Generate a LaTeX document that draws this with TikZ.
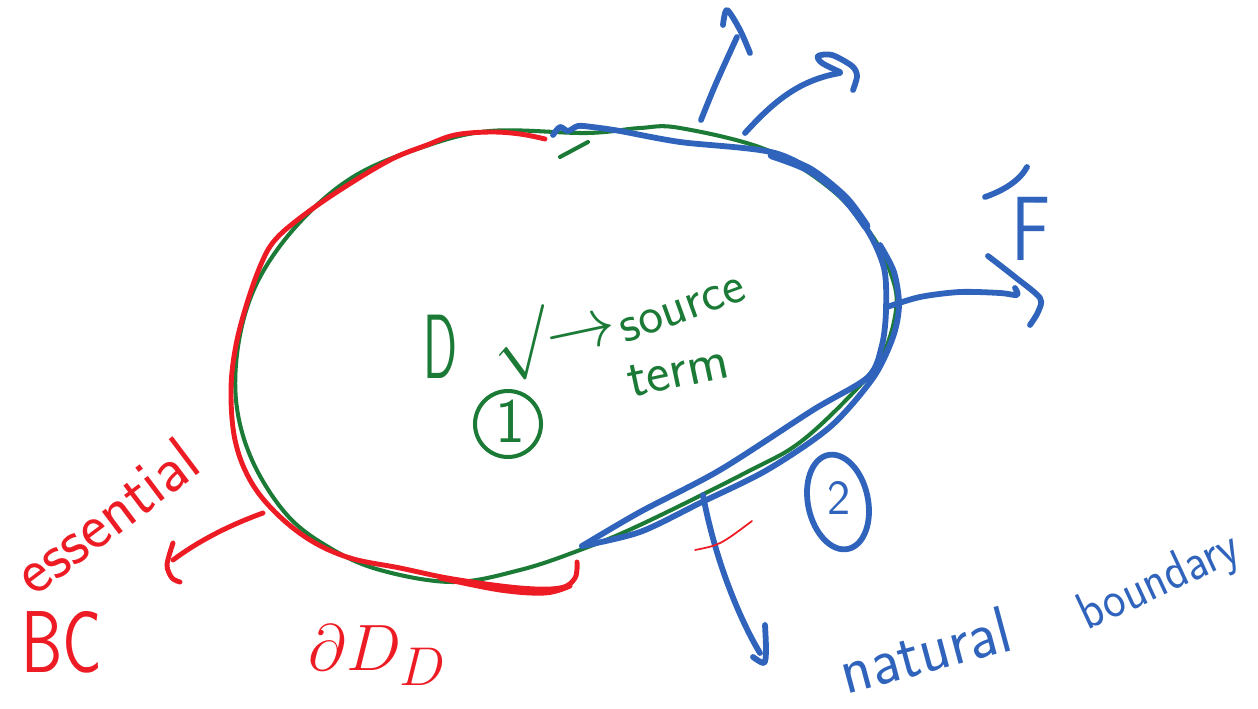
\documentclass[tikz,border=0pt]{standalone}
\definecolor{pgreen}{RGB}{26,122,54}
\definecolor{pred}{RGB}{237,28,36}
\definecolor{pblue}{RGB}{48,100,188}
\tikzset{
  gstroke/.style={pgreen, line width=2.3pt, line cap=round, line join=round},
  rstroke/.style={pred, line width=2.8pt, line cap=round, line join=round},
  bstroke/.style={pblue, line width=3.3pt, line cap=round, line join=round},
  lbl/.style={inner sep=0pt, font=\sffamily},
  fs/.style={font=\sffamily\fontsize{#1}{#1}\selectfont},
  mth/.style={font=\fontsize{24.88}{26}\selectfont, scale=#1},
}
\begin{document}
\begin{tikzpicture}[x=0.02cm,y=-0.02cm]
\useasboundingbox (0,0) rectangle (1258,709);
% domain boundary (green)
\draw[gstroke] plot[smooth cycle, tension=0.6] coordinates {(490,131) (587,133) (640,128) (680,128) (767,150) (832,190) (873,237) (893,280) (896,310) (885,350) (865,380) (803,440) (747,472) (640,525) (580,550) (520,570) (453,582) (380,570) (330,548) (287,515) (252,460) (236,400) (240,335) (260,277) (300,222) (353,177) (420,148)};
\draw[gstroke] (560,157) -- (588,142);
% essential boundary (red)
\draw[rstroke] plot[smooth, tension=0.6] coordinates {(545,139) (520,134) (490,132) (455,135) (427,145) (390,160) (340,190) (300,218) (275,240) (262,262) (248,300) (236,345) (231,390) (235,440) (250,480) (275,512) (310,540) (350,558) (400,568) (453,579) (520,588) (560,588) (575,578) (577,562)};
\draw[rstroke] plot[smooth, tension=0.6] coordinates {(440,578) (500,590) (545,593) (570,586)};
% natural boundary (blue)
\draw[bstroke] plot[smooth, tension=0.5] coordinates {(553,135) (560,127) (568,131) (578,126) (592,127) (620,131) (680,142) (775,153) (828,183) (866,228) (884,268) (886,310) (882,345) (868,377) (813,410) (720,470) (640,512) (582,546)};
\draw[bstroke] plot[smooth, tension=0.5] coordinates {(582,546) (640,532) (700,503) (767,470) (830,427) (873,378) (893,337) (899,305) (894,272) (880,245)};
\draw[bstroke, line width=5pt] plot[smooth] coordinates {(772,155) (810,170) (845,198) (866,226)};
% blue arrows on the top
\draw[bstroke] (701,120) .. controls (715,85) .. (737,37);
\draw[bstroke] plot[smooth] coordinates {(723,25) (727,10) (740,30) (750,53)};
\draw[bstroke] (745,133) .. controls (775,100) and (800,80) .. (840,73);
\draw[bstroke] plot[smooth] coordinates {(840,72) (822,63) (818,56) (832,55) (852,66) (857,76) (853,90)};
% F arrow
\draw[bstroke] plot[smooth] coordinates {(887,307) (920,297) (960,292) (1000,293) (1017,295) (1015,288)};
\draw[bstroke] plot[smooth] coordinates {(988,256) (1015,277) (1040,298) (1038,312) (1030,325)};
\draw[bstroke] (985,197) .. controls (1005,190) and (1020,180) .. (1027,167);
\node[lbl, fs=52, text=pblue, xscale=0.8] (F) at (1031,229) {F};
% downward arrow
\draw[bstroke] (703,495) .. controls (715,560) and (740,620) .. (760,653);
\draw[bstroke] plot[smooth] coordinates {(765,625) (766,650) (764,663) (753,657)};
\draw[pred, line width=1pt, line cap=round] (695,550) .. controls (720,545) .. (752,521);
% circled 2
\draw[bstroke, rotate around={12:(838,502)}] (838,502) ellipse (30 and 48);
\node[lbl, fs=28, text=pblue] (two) at (839,498) {2};
% natural boundary text
\node[lbl, fs=38, text=pblue, rotate=15, xscale=0.95] (natural) at (925,650) {natural};
\node[lbl, fs=30, text=pblue, rotate=25, xscale=0.9] (boundary) at (1160,583) {boundary};
% interior text
\node[lbl, fs=52, text=pgreen, xscale=0.55] (D) at (441,347) {D};
\node[lbl, mth=1.6, text=pgreen, rotate=12] (arr) at (554,338) {$\surd\!\!\to$};
\node[lbl, fs=30, text=pgreen, rotate=20] (source) at (683,310) {source};
\node[lbl, fs=32, text=pgreen, rotate=12] (term) at (678,372) {term};
\draw[gstroke] (508,424) circle (33);
\node[lbl, fs=36, text=pgreen] (one) at (510,421) {1};
% essential BC
\draw[rstroke] (263,513) .. controls (230,525) and (200,540) .. (173,560);
\draw[rstroke] plot[smooth] coordinates {(173,543) (167,565) (172,578) (180,582)};
\node[lbl, fs=37, text=pred, rotate=37] (essential) at (106,516) {essential};
\node[lbl, fs=50, text=pred, xscale=0.75] (BC) at (62,642) {BC};
\node[lbl, mth=1.5, text=pred] (dDD) at (378,655) {$\partial D_D$};
\end{tikzpicture}
\end{document}
